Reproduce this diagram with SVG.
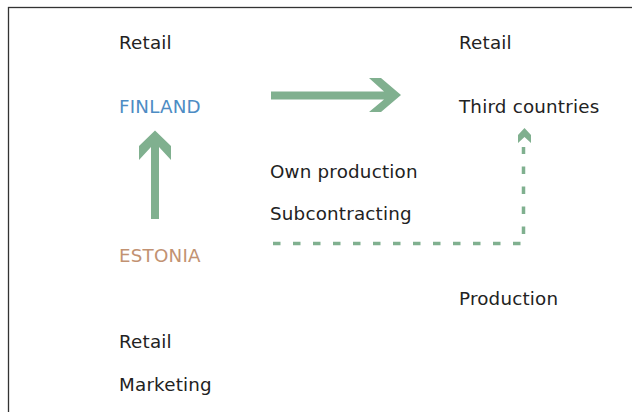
<svg xmlns="http://www.w3.org/2000/svg" width="632" height="412" viewBox="0 0 632 412">
<style>
text{font-family:"DejaVu Sans","Verdana",sans-serif;font-size:18.3px;letter-spacing:0.2px;fill:#222}
.fi{fill:#4d8cc4}
.ee{fill:#c29272}
.arrow{fill:#80b08f}
.dash{fill:none;stroke:#80b08f;stroke-width:3.5;stroke-dasharray:7.5 12.5}
</style>
<rect x="8.5" y="7.5" width="640" height="420" fill="#fff" stroke="#333" stroke-width="1.3"/>
<g id="retail-fi"><text x="119" y="49">Retail</text></g>
<g id="finland"><text class="fi" x="119" y="113">FINLAND</text></g>
<g id="retail-tc"><text x="459" y="49">Retail</text></g>
<g id="third-countries"><text x="459" y="113">Third countries</text></g>
<g id="own-production"><text x="270" y="177.5">Own production</text></g>
<g id="subcontracting"><text x="270" y="220">Subcontracting</text></g>
<g id="estonia"><text class="ee" x="119" y="262">ESTONIA</text></g>
<g id="production"><text x="459" y="305">Production</text></g>
<g id="retail-ee"><text x="119" y="348">Retail</text></g>
<g id="marketing"><text x="119" y="391">Marketing</text></g>
<g id="connectors">
<polygon class="arrow" points="271,91.5 384,91.5 369,78 381,78 401,95 381,112 369,112 384,99.5 271,99.5"/>
<polygon class="arrow" points="151,219 151,147 139,160 139,146 155,130.5 171,146 171,160 159,147 159,219"/>
<path class="dash" d="M273,243.5 H523.5 V147"/>
<polygon class="arrow" points="524.5,128 531,135 531,143 524.5,137 518,143 518,135"/>
</g>
</svg>
